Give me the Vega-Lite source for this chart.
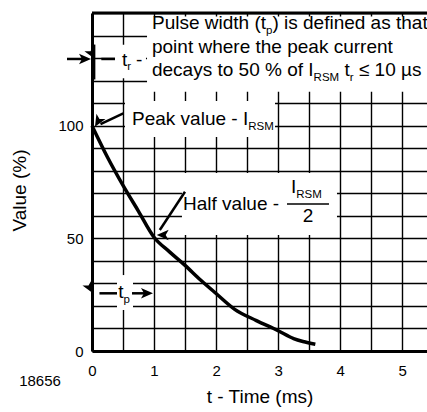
{
  "$schema": "https://vega.github.io/schema/vega-lite/v6.json",
  "width": 335,
  "height": 338,
  "autosize": {"type": "none"},
  "padding": {"left": 92, "top": 13, "right": 0, "bottom": 61},
  "background": "white",
  "config": {"view": {"stroke": null}, "font": "Liberation Sans"},
  "datasets": {
    "curve": [
      {"x": 0, "y": 100}, {"x": 0.25, "y": 86}, {"x": 0.5, "y": 73.5}, {"x": 0.75, "y": 62},
      {"x": 1, "y": 50.5}, {"x": 1.25, "y": 44}, {"x": 1.5, "y": 38}, {"x": 1.75, "y": 31.5},
      {"x": 2, "y": 25.5}, {"x": 2.3, "y": 18.5}, {"x": 2.65, "y": 13.5}, {"x": 3, "y": 9},
      {"x": 3.25, "y": 5.5}, {"x": 3.4, "y": 4.2}, {"x": 3.6, "y": 3}
    ],
    "boxes": [
      {"x": 0.887, "x2": 5.5, "y": 115, "y2": 148.5},
      {"x": 0.371, "x2": 0.87, "y": 121, "y2": 135.9},
      {"x": 0.532, "x2": 2.95, "y": 95, "y2": 110.9},
      {"x": 1.45, "x2": 3.949, "y": 51.5, "y2": 79},
      {"x": 0.403, "x2": 0.661, "y": 18.2, "y2": 33.7}
    ],
    "segs": [
      {"kind": "shaft", "x": -0.403, "x2": -0.11, "y": 129.6, "y2": 129.6},
      {"kind": "shaft", "x": 0.371, "x2": 0.15, "y": 129.6, "y2": 129.6},
      {"kind": "shaft", "x": 0.403, "x2": 0.12, "y": 25.6, "y2": 25.6},
      {"kind": "shaft", "x": 0.645, "x2": 0.88, "y": 25.6, "y2": 25.6},
      {"kind": "shaft", "x": 0.5045, "x2": 0.137, "y": 105.49, "y2": 100.7},
      {"kind": "shaft", "x": 1.499, "x2": 1.093, "y": 70.7, "y2": 53.7},
      {"kind": "bar", "x": 3.143, "x2": 3.82, "y": 65.24, "y2": 65.24},
      {"kind": "thick", "x": 0.03, "x2": 0.03, "y": 120.5, "y2": 136},
      {"kind": "thick", "x": 0, "x2": 5.5, "y": 150, "y2": 150}
    ],
    "heads": [
      {"x": -0.016, "y": 129.6, "dir": "right"},
      {"x": 0.048, "y": 129.6, "dir": "left"},
      {"x": 0.016, "y": 25.6, "dir": "left"},
      {"x": 0.983, "y": 25.6, "dir": "right"},
      {"x": 0.048, "y": 99.54, "dir": "peak"},
      {"x": 1.043, "y": 51.48, "dir": "half"}
    ],
    "texts": [
      {"kind": "main", "x": 0.967, "y": 142.7, "text": "Pulse width (t"},
      {"kind": "sub", "x": 2.805, "y": 140.5, "text": "p"},
      {"kind": "main", "x": 2.908, "y": 142.7, "text": ") is defined as that"},
      {"kind": "main", "x": 0.967, "y": 132.3, "text": "point where the peak current"},
      {"kind": "main", "x": 0.967, "y": 122.0, "text": "decays to 50 % of I"},
      {"kind": "sub", "x": 3.572, "y": 119.8, "text": "RSM"},
      {"kind": "main", "x": 4.07, "y": 122.0, "text": "t"},
      {"kind": "sub", "x": 4.156, "y": 119.8, "text": "r"},
      {"kind": "main", "x": 4.302, "y": 122.0, "text": "≤ 10 µs"},
      {"kind": "main", "x": 0.4836, "y": 126.7, "text": "t"},
      {"kind": "sub", "x": 0.569, "y": 124.5, "text": "r"},
      {"kind": "main", "x": 0.709, "y": 126.7, "text": "-"},
      {"kind": "main", "x": 0.645, "y": 100.3, "text": "Peak value - I"},
      {"kind": "sub", "x": 2.518, "y": 98.08, "text": "RSM"},
      {"kind": "main", "x": 1.467, "y": 62.58, "text": "Half value -"},
      {"kind": "main", "x": 3.208, "y": 69.99, "text": "I"},
      {"kind": "sub", "x": 3.293, "y": 67.68, "text": "RSM"},
      {"kind": "center", "x": 3.482, "y": 57.38, "text": "2"},
      {"kind": "main", "x": 0.424, "y": 23.39, "text": "t"},
      {"kind": "sub", "x": 0.509, "y": 21.17, "text": "p"},
      {"kind": "note", "x": -0.838, "y": -15.5, "text": "18656"}
    ]
  },
  "encoding": {
    "x": {
      "field": "x", "type": "quantitative",
      "scale": {"domain": [0, 5.4], "nice": false, "zero": false},
      "axis": {
        "title": "t - Time (ms)",
        "values": [0, 0.5, 1, 1.5, 2, 2.5, 3, 3.5, 4, 4.5, 5],
        "labelExpr": "datum.value % 1 === 0 ? format(datum.value, 'd') : ''",
        "grid": true, "gridColor": "#000", "gridWidth": 1.4, "gridOpacity": 1,
        "domainColor": "#000", "domainWidth": 3, "ticks": false,
        "labelFont": "Liberation Sans", "labelFontSize": 15, "labelColor": "#000",
        "labelPadding": 12, "labelFlush": false, "labelOverlap": false,
        "titleFont": "Liberation Sans", "titleFontSize": 19, "titleFontWeight": "normal",
        "titleColor": "#000", "titlePadding": 9
      }
    },
    "y": {
      "field": "y", "type": "quantitative",
      "scale": {"domain": [0, 150], "nice": false, "zero": false},
      "axis": {
        "title": "Value (%)",
        "values": [0, 10, 20, 30, 40, 50, 60, 70, 80, 90, 100, 110, 120, 130, 140, 150],
        "labelExpr": "(datum.value % 50 === 0 && datum.value <= 100) ? format(datum.value, 'd') : ''",
        "grid": true, "gridColor": "#000", "gridWidth": 1.4, "gridOpacity": 1,
        "domainColor": "#000", "domainWidth": 3, "ticks": false,
        "labelFont": "Liberation Sans", "labelFontSize": 15, "labelColor": "#000",
        "labelPadding": 9, "labelOverlap": false,
        "titleFont": "Liberation Sans", "titleFontSize": 19, "titleFontWeight": "normal",
        "titleColor": "#000", "titlePadding": 28, "titleY": 177
      }
    }
  },
  "layer": [
    {
      "data": {"name": "curve"},
      "mark": {"type": "line", "color": "#000", "strokeWidth": 3.5, "interpolate": "monotone"}
    },
    {
      "data": {"name": "boxes"},
      "mark": {"type": "rect", "color": "white", "opacity": 1},
      "encoding": {"x2": {"field": "x2"}, "y2": {"field": "y2"}}
    },
    {
      "data": {"name": "segs"},
      "transform": [{"filter": "datum.kind === 'shaft'"}],
      "mark": {"type": "rule", "color": "#000", "strokeWidth": 2.5},
      "encoding": {"x2": {"field": "x2"}, "y2": {"field": "y2"}}
    },
    {
      "data": {"name": "segs"},
      "transform": [{"filter": "datum.kind === 'bar'"}],
      "mark": {"type": "rule", "color": "#000", "strokeWidth": 1.5},
      "encoding": {"x2": {"field": "x2"}, "y2": {"field": "y2"}}
    },
    {
      "data": {"name": "segs"},
      "transform": [{"filter": "datum.kind === 'thick'"}],
      "mark": {"type": "rule", "color": "#000", "strokeWidth": 3},
      "encoding": {"x2": {"field": "x2"}, "y2": {"field": "y2"}}
    },
    {
      "data": {"name": "heads"},
      "mark": {"type": "point", "shape": "M0,0L-2.4,-1.05L-1.8,0L-2.4,1.05Z", "filled": true, "size": 100, "color": "#000", "opacity": 1, "strokeWidth": 0},
      "encoding": {
        "angle": {"field": "dir", "type": "nominal", "scale": {"domain": ["right", "left", "peak", "half"], "range": [0, 180, 154.7, 123.2]}, "legend": null}
      }
    },
    {
      "data": {"name": "texts"},
      "transform": [{"filter": "datum.kind === 'main'"}],
      "mark": {"type": "text", "align": "left", "baseline": "alphabetic", "fontSize": 19, "font": "Liberation Sans", "color": "#000"},
      "encoding": {"text": {"field": "text"}}
    },
    {
      "data": {"name": "texts"},
      "transform": [{"filter": "datum.kind === 'sub'"}],
      "mark": {"type": "text", "align": "left", "baseline": "alphabetic", "fontSize": 11.5, "font": "Liberation Sans", "color": "#000"},
      "encoding": {"text": {"field": "text"}}
    },
    {
      "data": {"name": "texts"},
      "transform": [{"filter": "datum.kind === 'center'"}],
      "mark": {"type": "text", "align": "center", "baseline": "alphabetic", "fontSize": 19, "font": "Liberation Sans", "color": "#000"},
      "encoding": {"text": {"field": "text"}}
    },
    {
      "data": {"name": "texts"},
      "transform": [{"filter": "datum.kind === 'note'"}],
      "mark": {"type": "text", "align": "center", "baseline": "alphabetic", "fontSize": 15, "font": "Liberation Sans", "color": "#000"},
      "encoding": {"text": {"field": "text"}}
    }
  ]
}
